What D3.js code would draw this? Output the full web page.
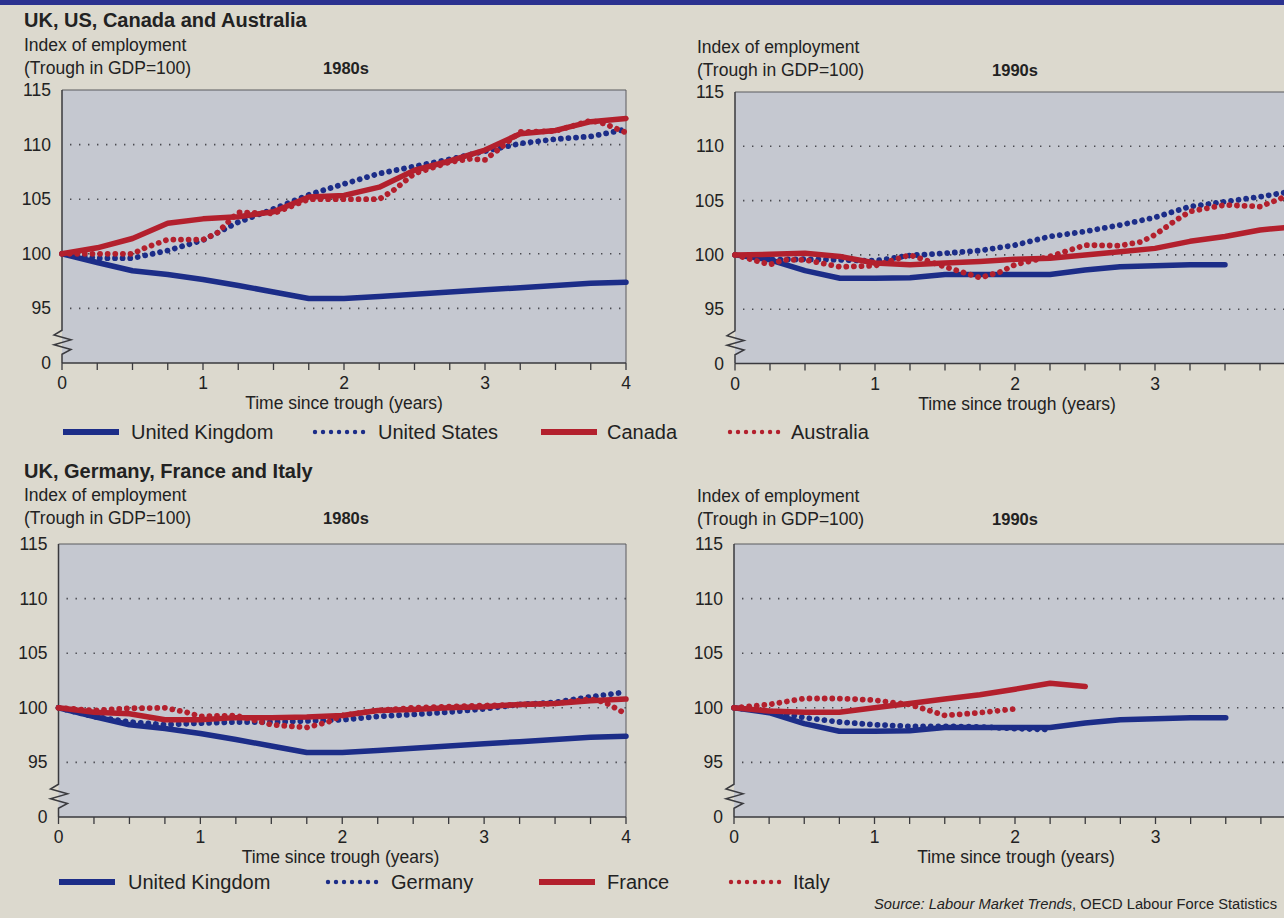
<!DOCTYPE html>
<html>
<head>
<meta charset="utf-8">
<script src="https://cdn.jsdelivr.net/npm/d3@7"></script>
<style>
  html, body { margin: 0; padding: 0; background: #dcd9ce; }
  svg { display: block; }
  text { font-family: "Liberation Sans", Arial, Helvetica, sans-serif; fill: #222; }
</style>
</head>
<body>
<svg id="chart" width="1284" height="918"></svg>
<script>
// ---- data: index of employment (trough in GDP = 100), [years since trough, index] ----
const ukEighties = [[0,100],[0.25,99.2],[0.5,98.45],[0.75,98.1],[1,97.65],[1.25,97.1],[1.5,96.5],[1.75,95.9],[2,95.9],[2.25,96.1],[2.5,96.3],[2.75,96.5],[3,96.7],[3.25,96.9],[3.5,97.1],[3.75,97.3],[4,97.4]];
const usEighties = [[0,100],[0.25,99.6],[0.5,99.6],[0.75,100.3],[1,101.25],[1.25,102.9],[1.5,104.1],[1.75,105.4],[2,106.4],[2.25,107.35],[2.5,108.0],[2.75,108.65],[3,109.4],[3.25,110.1],[3.5,110.5],[3.75,110.75],[4,111.4]];
const canadaEighties = [[0,100],[0.25,100.55],[0.5,101.4],[0.75,102.8],[1,103.2],[1.25,103.4],[1.5,103.85],[1.75,105.2],[2,105.35],[2.25,106.1],[2.5,107.65],[2.75,108.5],[3,109.5],[3.25,111.0],[3.5,111.3],[3.75,112.1],[4,112.4]];
const australiaEighties = [[0,100],[0.25,100],[0.5,100],[0.6,100.6],[0.75,101.3],[1,101.3],[1.1,101.9],[1.17,102.8],[1.25,103.8],[1.5,103.7],[1.75,105.0],[2,105.0],[2.25,105.0],[2.35,105.8],[2.5,107.35],[2.75,108.4],[2.9,108.7],[3,108.6],[3.1,109.6],[3.25,111.15],[3.5,111.25],[3.75,112.2],[3.85,111.9],[4,111.1]];

const ukNineties = [[0,100],[0.25,99.55],[0.5,98.55],[0.75,97.85],[1,97.85],[1.25,97.9],[1.5,98.2],[1.75,98.2],[2,98.2],[2.25,98.2],[2.5,98.6],[2.75,98.9],[3,99.0],[3.25,99.1],[3.5,99.1]];
const usNineties = [[0,100],[0.25,99.55],[0.5,99.6],[0.75,99.55],[1,99.45],[1.25,99.95],[1.5,100.15],[1.75,100.4],[2,100.9],[2.25,101.7],[2.5,102.15],[2.75,102.75],[3,103.45],[3.25,104.45],[3.5,104.9],[3.75,105.35],[4,105.9]];
const canadaNineties = [[0,100],[0.25,100.05],[0.5,100.15],[0.75,99.85],[1,99.25],[1.25,99.1],[1.5,99.25],[1.75,99.4],[2,99.6],[2.25,99.7],[2.5,100.0],[2.75,100.3],[3,100.6],[3.25,101.25],[3.5,101.7],[3.75,102.3],[4,102.6]];
const australiaNineties = [[0,100],[0.25,99.1],[0.35,99.55],[0.5,99.55],[0.75,98.9],[1,99.0],[1.25,100.0],[1.5,98.9],[1.65,98.3],[1.75,97.9],[1.9,98.45],[2,99.1],[2.25,99.85],[2.5,100.9],[2.75,100.85],[2.9,101.2],[3,101.85],[3.15,103.2],[3.25,104.0],[3.5,104.6],[3.75,104.45],[3.9,105.2],[4,106.1]];

const germanyEighties = [[0,100],[0.25,99.2],[0.5,98.7],[0.75,98.45],[1,98.6],[1.25,98.7],[1.5,98.7],[1.75,98.8],[2,98.9],[2.25,99.2],[2.5,99.4],[2.75,99.6],[3,99.9],[3.25,100.3],[3.5,100.5],[3.75,101.0],[4,101.45]];
const franceEighties = [[0,100],[0.25,99.6],[0.5,99.45],[0.75,98.9],[1,98.9],[1.25,99.1],[1.5,99.1],[1.75,99.15],[2,99.3],[2.25,99.75],[2.5,99.85],[2.75,100.0],[3,100.1],[3.25,100.3],[3.5,100.4],[3.75,100.65],[4,100.8]];
const italyEighties = [[0,100],[0.25,99.75],[0.5,99.95],[0.75,100.0],[0.9,99.6],[1,99.2],[1.25,99.3],[1.5,98.45],[1.75,98.2],[1.9,98.7],[2,99.3],[2.25,99.75],[2.5,100.0],[2.75,100.1],[3,100.2],[3.25,100.3],[3.5,100.4],[3.75,100.8],[3.85,100.5],[4,99.45]];

const germanyNineties = [[0,100],[0.25,99.7],[0.5,99.1],[0.75,98.7],[1,98.45],[1.25,98.3],[1.5,98.3],[1.75,98.25],[2,98.1],[2.25,98.0]];
const franceNineties = [[0,100],[0.25,99.7],[0.5,99.6],[0.75,99.6],[1,100.0],[1.25,100.4],[1.5,100.8],[1.75,101.2],[2,101.7],[2.25,102.25],[2.5,101.95]];
const italyNineties = [[0,100],[0.25,100.3],[0.5,100.85],[0.75,100.85],[1,100.7],[1.15,100.45],[1.25,100.3],[1.4,99.7],[1.5,99.3],[1.75,99.55],[2,99.9]];

// axis ticks: the lowest value is shown as 0 below the axis break
const yTickValues = [90, 95, 100, 105, 110, 115];
const yTickLabels = ["0", "95", "100", "105", "110", "115"];
const gridValues = [95, 100, 105, 110];
const xLabelValues = [0, 1, 2, 3, 4];
const xMinorTicks = d3.range(0, 4.001, 0.25);

const groupOneNames = ["United Kingdom", "United States", "Canada", "Australia"];
const groupTwoNames = ["United Kingdom", "Germany", "France", "Italy"];

// ---- styling ----
const BLUE = "#1c2d88";
const RED = "#b3202d";
const styles = [
  { color: BLUE, dotted: false },
  { color: BLUE, dotted: true },
  { color: RED, dotted: false },
  { color: RED, dotted: true }
];

const svg = d3.select("#chart");

// top printed band
svg.append("rect").attr("x", 0).attr("y", 0).attr("width", 1284).attr("height", 5).attr("fill", "#2b3290");

function panel(cfg) {
  const x = d3.scaleLinear().domain([0, 4]).range([cfg.x0, cfg.x4]);
  const y = d3.scaleLinear().domain([90, 115]).range([cfg.yBottom, cfg.yTop]);
  const g = svg.append("g");

  // plot background
  g.append("rect")
    .attr("x", x(0)).attr("y", y(115))
    .attr("width", x(4) - x(0)).attr("height", y(90) - y(115))
    .attr("fill", "#c5c8d0");

  // top and right frame
  g.append("path")
    .attr("d", `M${x(0)},${y(115)}H${x(4)}V${y(90)}`)
    .attr("fill", "none").attr("stroke", "#5a5a5e").attr("stroke-width", 1);

  // dotted gridlines
  g.selectAll(".grid").data(gridValues).join("line")
    .attr("x1", x(0) + 8).attr("x2", x(4))
    .attr("y1", d => y(d)).attr("y2", d => y(d))
    .attr("stroke", "#4a4a50").attr("stroke-width", 1.6)
    .attr("stroke-dasharray", "1.4,7.6");

  // y axis with break
  const zTop = y(93), zBot = y(90.8), ax = x(0);
  const zh = (zTop - zBot);
  const zig = [
    [ax, y(115)], [ax, zTop],
    [ax - 8, zTop - zh * 0.2], [ax + 9, zTop - zh * 0.4],
    [ax - 8, zTop - zh * 0.6], [ax + 9, zTop - zh * 0.8],
    [ax, zBot], [ax, y(90)]
  ];
  g.append("path").attr("d", d3.line()(zig))
    .attr("fill", "none").attr("stroke", "#3a3a3e").attr("stroke-width", 1.5);

  // x axis line and quarter ticks
  g.append("line").attr("x1", x(0)).attr("x2", x(4)).attr("y1", y(90)).attr("y2", y(90))
    .attr("stroke", "#3a3a3e").attr("stroke-width", 1.5);
  g.selectAll(".xt").data(xMinorTicks).join("line")
    .attr("x1", d => x(d)).attr("x2", d => x(d))
    .attr("y1", y(90)).attr("y2", y(90) + 7)
    .attr("stroke", "#3a3a3e").attr("stroke-width", 1.3);

  g.selectAll(".xl").data(xLabelValues).join("text")
    .attr("x", d => x(d)).attr("y", y(90) + 26)
    .attr("text-anchor", "middle").attr("font-size", 17.5)
    .text(d => d);

  g.selectAll(".yl").data(yTickValues).join("text")
    .attr("x", x(0) - 11).attr("y", d => y(d) + 6)
    .attr("text-anchor", "end").attr("font-size", 17.5)
    .text((d, i) => yTickLabels[i]);

  g.append("text").attr("x", (cfg.x0 + cfg.x0 + 564) / 2).attr("y", y(90) + 46)
    .attr("text-anchor", "middle").attr("font-size", 17.5)
    .text("Time since trough (years)");

  // headings
  g.append("text").attr("x", cfg.hx).attr("y", cfg.hy)
    .attr("font-size", 17.5).text("Index of employment");
  g.append("text").attr("x", cfg.hx).attr("y", cfg.hy + 23)
    .attr("font-size", 17.5).text("(Trough in GDP=100)");
  g.append("text").attr("x", cfg.decadeX).attr("y", cfg.hy + 23)
    .attr("text-anchor", "middle").attr("font-size", 16.5).attr("font-weight", "bold")
    .text(cfg.decade);

  // series
  const line = d3.line().x(d => x(d[0])).y(d => y(d[1]));
  cfg.series.forEach((s, i) => {
    const st = styles[i];
    g.append("path").datum(s)
      .attr("d", line)
      .attr("fill", "none")
      .attr("stroke", st.color)
      .attr("stroke-width", st.dotted ? 5.8 : 5.5)
      .attr("stroke-linecap", "round")
      .attr("stroke-linejoin", "round")
      .attr("stroke-dasharray", st.dotted ? "0.01,7.6" : null);
  });
}

function legend(names, y, sampleX, textX) {
  const g = svg.append("g");
  names.forEach((n, i) => {
    const st = styles[i];
    g.append("line")
      .attr("x1", sampleX[i] + (st.dotted ? 3 : 0)).attr("x2", sampleX[i] + (st.dotted ? 52 : 56))
      .attr("y1", y).attr("y2", y)
      .attr("stroke", st.color)
      .attr("stroke-width", st.dotted ? 4.4 : 6)
      .attr("stroke-linecap", st.dotted ? "round" : "butt")
      .attr("stroke-dasharray", st.dotted ? "0.01,8" : null);
    g.append("text").attr("x", textX[i]).attr("y", y + 7)
      .attr("font-size", 20).text(n);
  });
}

// section titles
svg.append("text").attr("x", 24).attr("y", 27).attr("font-size", 20).attr("font-weight", "bold")
  .text("UK, US, Canada and Australia");
svg.append("text").attr("x", 24).attr("y", 478).attr("font-size", 20).attr("font-weight", "bold")
  .text("UK, Germany, France and Italy");

panel({ x0: 62, x4: 626, yTop: 90, yBottom: 363, hx: 24, hy: 51, decadeX: 346, decade: "1980s",
        series: [ukEighties, usEighties, canadaEighties, australiaEighties] });
panel({ x0: 735, x4: 1295, yTop: 92, yBottom: 363.5, hx: 697, hy: 53, decadeX: 1015, decade: "1990s",
        series: [ukNineties, usNineties, canadaNineties, australiaNineties] });
panel({ x0: 58.5, x4: 626, yTop: 544, yBottom: 817, hx: 24, hy: 501, decadeX: 346, decade: "1980s",
        series: [ukEighties, germanyEighties, franceEighties, italyEighties] });
panel({ x0: 734, x4: 1296, yTop: 544, yBottom: 817, hx: 697, hy: 502, decadeX: 1015, decade: "1990s",
        series: [ukNineties, germanyNineties, franceNineties, italyNineties] });

legend(groupOneNames, 432, [63, 312, 541, 727], [131, 378, 607, 791]);
legend(groupTwoNames, 882, [59, 325, 539, 728], [128, 391, 607, 793]);

// source line
const src = svg.append("text").attr("x", 874).attr("y", 909).attr("font-size", 14.7).attr("font-style", "italic");
src.append("tspan").text("Source:  Labour Market Trends");
src.append("tspan").attr("font-style", "normal").text(", OECD Labour Force Statistics");
</script>
</body>
</html>
